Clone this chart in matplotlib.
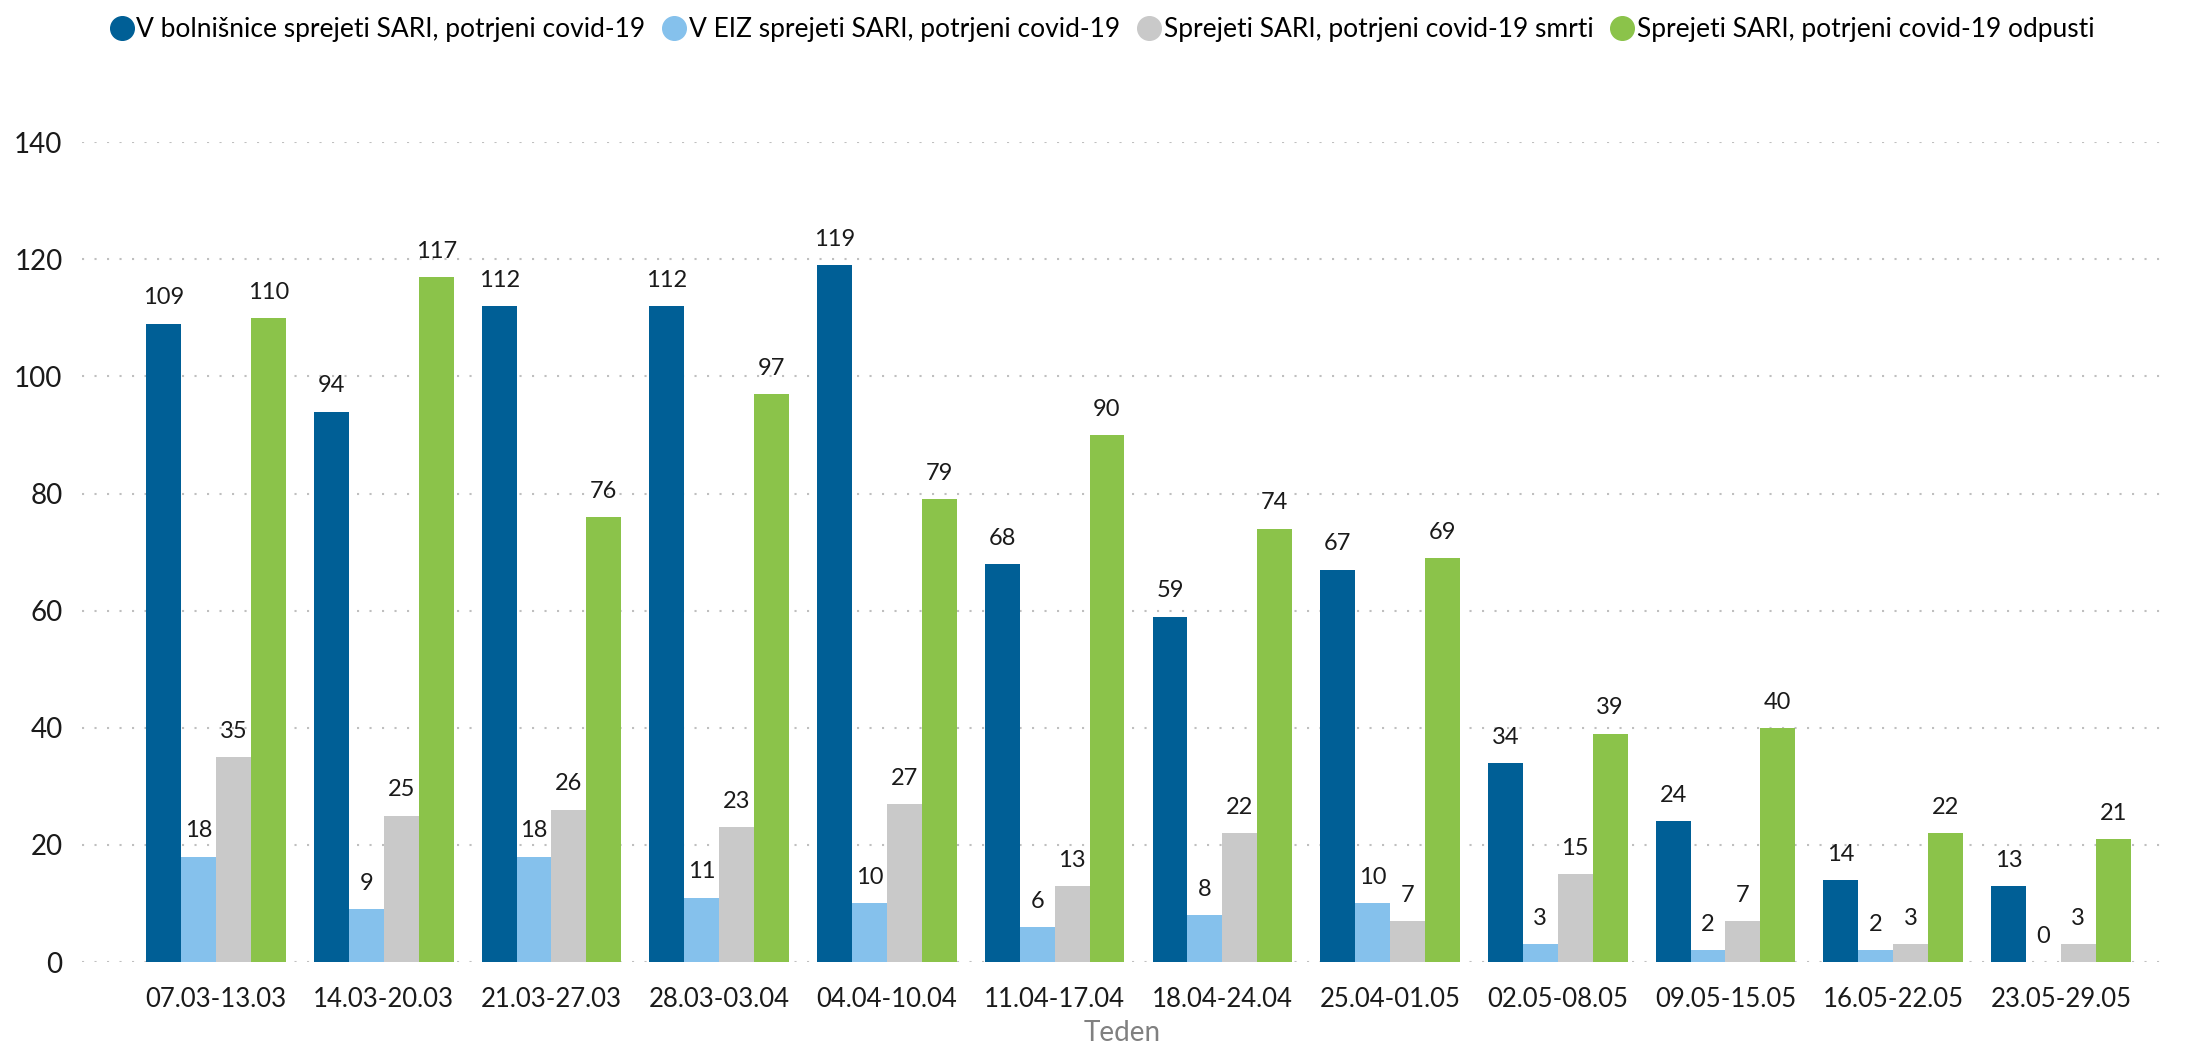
import matplotlib
matplotlib.use('Agg')
import matplotlib.pyplot as plt
import numpy as np

weeks = ['07.03-13.03', '14.03-20.03', '21.03-27.03', '28.03-03.04', '04.04-10.04', '11.04-17.04',
         '18.04-24.04', '25.04-01.05', '02.05-08.05', '09.05-15.05', '16.05-22.05', '23.05-29.05']
sprejeti = [109, 94, 112, 112, 119, 68, 59, 67, 34, 24, 14, 13]
eiz = [18, 9, 18, 11, 10, 6, 8, 10, 3, 2, 2, 0]
smrti = [35, 25, 26, 23, 27, 13, 22, 7, 15, 7, 3, 3]
odpusti = [110, 117, 76, 97, 79, 90, 74, 69, 39, 40, 22, 21]

series_names = ['V bolnišnice sprejeti SARI, potrjeni covid-19',
                'V EIZ sprejeti SARI, potrjeni covid-19',
                'Sprejeti SARI, potrjeni covid-19 smrti',
                'Sprejeti SARI, potrjeni covid-19 odpusti']
colors = ['#005F96', '#85C1EC', '#C9C9C9', '#8BC34A']

plt.rcParams['font.family'] = ['Lato', 'DejaVu Sans']

fig = plt.figure(figsize=(21.9, 10.46), dpi=100)
ax = fig.add_axes([0.0374, 0.0803, 0.9496, 0.7837])

x = np.arange(len(weeks))
w = 0.208
handles = []
for i, (vals, name, c) in enumerate(zip([sprejeti, eiz, smrti, odpusti], series_names, colors)):
    pos = x + (i - 1.5) * w
    ax.bar(pos, vals, w, color=c, label=name, zorder=3)
    for px, v in zip(pos, vals):
        ax.annotate(str(v), (px, v), xytext=(0, 11), textcoords='offset points',
                    ha='center', va='bottom', fontsize=17, color='#1a1a1a')
    h, = ax.plot([], [], 'o', color=c, markersize=17, label=name)
    handles.append(h)

ax.set_ylim(0, 140)
ax.set_xlim(-0.8, 11.6)
ax.set_yticks(range(0, 141, 20))
ax.yaxis.grid(True, linestyle=(0, (1, 5)), color='#BFBFBF', linewidth=1.5, zorder=0)
for s in ax.spines.values():
    s.set_visible(False)
ax.tick_params(axis='both', length=0, labelsize=20, colors='#1a1a1a')
ax.tick_params(axis='y', pad=14)
ax.tick_params(axis='x', pad=18, labelsize=18.5)
ax.set_xticks(x)
ax.set_xticklabels(weeks)
ax.set_xlabel('Teden', fontsize=20, color='#808080', labelpad=6)

fig.legend(handles=handles, labels=series_names, loc='center', bbox_to_anchor=(0.503, 0.972),
           ncol=4, frameon=False, fontsize=19, handletextpad=0.05, columnspacing=0.6,
           handlelength=1.0)

fig.savefig('out.png', dpi=100)
